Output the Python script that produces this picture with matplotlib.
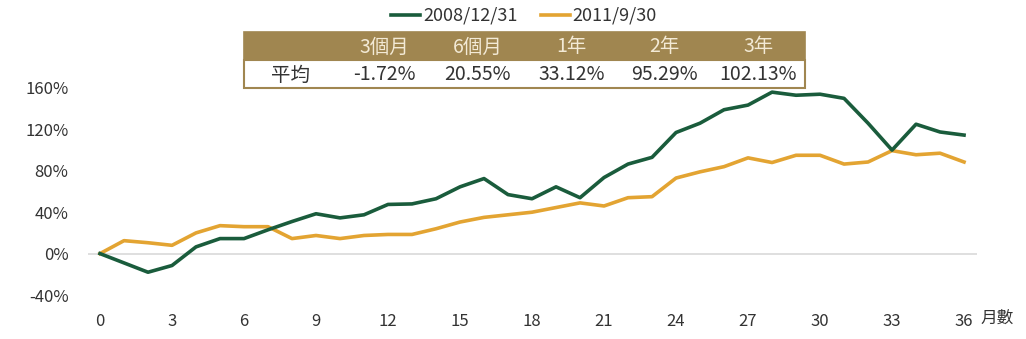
import matplotlib
matplotlib.use("Agg")
import matplotlib.pyplot as plt
from matplotlib.lines import Line2D
from matplotlib.patches import Rectangle

plt.rcParams['font.family'] = ['Noto Sans CJK TC', 'DejaVu Sans']

# Cumulative return (%) by month after each starting date
months = list(range(37))
series_2008 = [0, -9, -18, -11.5, 6.5, 14.5, 14.5, 23, 31, 38.5, 34.5, 37.5, 47.5, 48,
               53, 64.5, 72.5, 57, 53, 64.5, 54, 73.5, 86.5, 93, 117, 126, 139, 143.5,
               156, 153, 154, 150, 126, 100, 125, 117.5, 114.5]
series_2011 = [0, 12.5, 10.5, 8, 20, 27, 26, 26, 14.5, 17.5, 14.5, 17.5, 18.5, 18.5,
               24, 30.5, 35, 37.5, 40, 44.5, 49, 46, 54, 55, 73, 79, 84, 92.5,
               88, 95, 95, 86.5, 88.5, 99.5, 95.5, 97, 88.5]
series_labels = ['2008/12/31', '2011/9/30']

# Average return table
table_header = ['', '3個月', '6個月', '1年', '2年', '3年']
table_row = ['平均', '-1.72%', '20.55%', '33.12%', '95.29%', '102.13%']

x_ticks = [0, 3, 6, 9, 12, 15, 18, 21, 24, 27, 30, 33, 36]
y_ticks = [-40, 0, 40, 80, 120, 160]

GREEN = '#1a5c3c'
GOLD = '#e3a432'
BROWN = '#a08650'
TEXT = '#333333'

W, H = 1026, 339
fig = plt.figure(figsize=(W / 100, H / 100), dpi=100)


def fx(px):
    return px / W


def fy(py):
    return 1 - py / H


# Plot area
ax_left, ax_right, ax_top, ax_bottom = 88, 977, 88, 295
ax = fig.add_axes([fx(ax_left), fy(ax_bottom), fx(ax_right - ax_left), (ax_bottom - ax_top) / H])
ax.set_xlim(-0.5, 36.54)
ax.set_ylim(-40, 160)
for s in ax.spines.values():
    s.set_visible(False)
ax.axhline(0, color='#d9d9d9', lw=1.2, zorder=1)
ax.plot(months, series_2008, color=GREEN, lw=2.6, zorder=3, clip_on=False)
ax.plot(months, series_2011, color=GOLD, lw=2.6, zorder=2, clip_on=False)

ax.set_xticks(x_ticks)
ax.set_xticklabels([str(t) for t in x_ticks])
ax.set_yticks(y_ticks)
ax.set_yticklabels([f'{t}%' for t in y_ticks])
ax.tick_params(axis='both', length=0, labelsize=12, labelcolor=TEXT)
ax.tick_params(axis='x', pad=13)
ax.tick_params(axis='y', pad=14)

fig.text(fx(980), fy(318), '月數', fontsize=12, color=TEXT, ha='left', va='center')

# Legend
handles = [Line2D([], [], color=GREEN, lw=2.6), Line2D([], [], color=GOLD, lw=2.6)]
fig.legend(handles, series_labels, loc='center', bbox_to_anchor=(fx(524), fy(16)),
           ncol=2, frameon=False, fontsize=13, handlelength=1.6, handletextpad=0.15,
           columnspacing=1.3, labelcolor=TEXT)

# Table
tb_left, tb_right = 244, 805
tb_top, tb_mid, tb_bot = 32, 60, 88
col_w = (tb_right - tb_left) / len(table_header)
fig.patches.append(Rectangle((fx(tb_left), fy(tb_mid)), fx(tb_right - tb_left),
                             (tb_mid - tb_top) / H, transform=fig.transFigure,
                             facecolor=BROWN, edgecolor=BROWN, lw=1.2, zorder=5))
fig.patches.append(Rectangle((fx(tb_left), fy(tb_bot)), fx(tb_right - tb_left),
                             (tb_bot - tb_mid) / H, transform=fig.transFigure,
                             facecolor='white', edgecolor=BROWN, lw=1.5, zorder=5))
for i, (h, v) in enumerate(zip(table_header, table_row)):
    cx = tb_left + col_w * (i + 0.5)
    if h:
        fig.text(fx(cx), fy((tb_top + tb_mid) / 2 + 1), h, fontsize=14, color='#f3ead6',
                 ha='center', va='center', zorder=6)
    fig.text(fx(cx), fy((tb_mid + tb_bot) / 2 + 1), v, fontsize=14, color=TEXT,
             ha='center', va='center', zorder=6)

fig.savefig('out.png', dpi=100, facecolor='white')
